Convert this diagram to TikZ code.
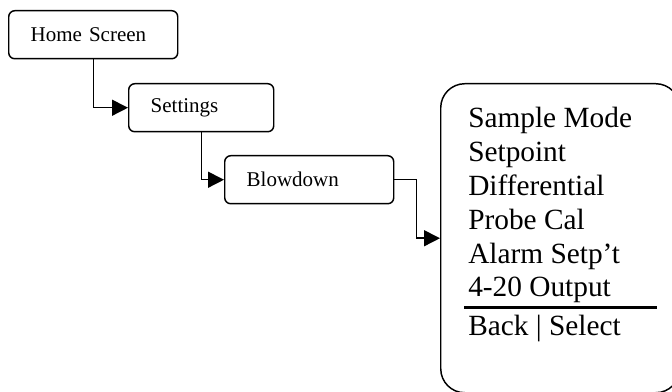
\documentclass[tikz,border=0pt]{standalone}
\usepackage{fontspec}
\setmainfont{Liberation Serif}
\usetikzlibrary{arrows.meta}

\tikzset{
  menubox/.style={draw, line width=1.1pt, rounded corners=4.5pt, anchor=north west,
    minimum height=36pt, inner xsep=16.5pt, align=left, font=\fontsize{15.75}{18}\selectfont},
  flow/.style={line width=1.1pt, -{Triangle[length=12pt,width=12pt]}},
  item/.style={anchor=base west, inner sep=0pt, font=\fontsize{22}{25}\selectfont}
}

\begin{document}
\begin{tikzpicture}[x=0.75pt,y=-0.75pt]
\clip (0,0) rectangle (672,392);
\node[menubox, minimum width=126.75pt, text width=93.75pt] (home) at (8,10) {Home Screen};
\node[menubox, minimum width=108.75pt, text width=75.75pt] (settings) at (128,83) {Settings};
\node[menubox, minimum width=126.75pt, text width=93.75pt] (blow) at (224,155) {Blowdown};
\node[draw, line width=1.1pt, rounded corners=18pt, anchor=north west,
  minimum width=179.25pt, minimum height=231.75pt] (screen) at (440,83) {};
\draw[flow] (home.south) |- (settings.west);
\draw[flow] (settings.south) |- (blow.west);
\draw[flow] (blow.east) -- ++(22,0) |- (screen.west);
\foreach \txt [count=\i] in {Sample Mode, Setpoint, Differential, Probe Cal, Alarm Setp’t, 4-20 Output}
  \node[item] (item\i) at (468,{128+33.8*(\i-1)}) {\txt};
\coordinate (ruleL) at (464,308);
\coordinate (ruleR) at (657,308);
\draw[line width=2.25pt] (ruleL) -- (ruleR);
\node[item] (back) at (468,336) {Back | Select};
\end{tikzpicture}
\end{document}
